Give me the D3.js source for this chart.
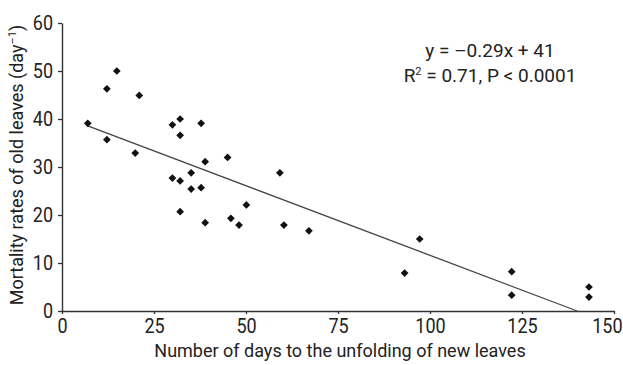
<!DOCTYPE html>
<html>
<head>
<meta charset="utf-8">
<script src="https://cdn.jsdelivr.net/npm/d3@7"></script>
<style>
  body { margin: 0; background: #fff; }
  svg text { font-family: "Roboto", sans-serif; fill: #222; }
</style>
</head>
<body>
<div id="chart"></div>
<script>
// Days to unfolding of new leaves vs mortality rate of old leaves
const daysToUnfold = [7, 12.2, 14.9, 21, 12.2, 19.9, 30, 32.1, 32.1, 37.8, 38.9, 45, 59.2,
                      30, 32.1, 35.1, 35.1, 37.8, 32.1, 38.9, 45.9, 48.1, 50.1, 60.3, 67.1,
                      97.2, 93.1, 122.2, 122.2, 143.2, 143.2];
const mortality    = [39.1, 46.3, 50, 44.9, 35.7, 32.9, 38.8, 40, 36.6, 39.1, 31.1, 32, 28.8,
                      27.7, 27.1, 28.8, 25.4, 25.7, 20.7, 18.4, 19.3, 17.9, 22.1, 17.9, 16.7,
                      15, 7.9, 8.2, 3.3, 5, 2.9];
const xTicks = [0, 25, 50, 75, 100, 125, 150];
const yTicks = [0, 10, 20, 30, 40, 50, 60];
// fitted line as drawn (slope, intercept) and its start x
const fit = { slope: -0.29, intercept: 40.6, x0: 7 };
const equationLines = ["y = \u20130.29x + 41", "R2 = 0.71, P < 0.0001"];

const width = 623, height = 365;
const margin = { top: 23, right: 9, bottom: 54, left: 62 };
const squeeze = 0.9; // condensed look for tick labels

const svg = d3.select("#chart").append("svg")
  .attr("width", width).attr("height", height);

const x = d3.scaleLinear().domain([0, 150]).range([margin.left, width - margin.right]);
const y = d3.scaleLinear().domain([0, 60]).range([height - margin.bottom, margin.top]);

// axes
const gX = svg.append("g")
  .attr("transform", `translate(0,${y(0)})`)
  .call(d3.axisBottom(x).tickValues(xTicks).tickSize(3).tickSizeOuter(0).tickPadding(5));
const gY = svg.append("g")
  .attr("transform", `translate(${x(0)},0)`)
  .call(d3.axisLeft(y).tickValues(yTicks).tickSize(4).tickSizeOuter(0).tickPadding(5));

[gX, gY].forEach(g => {
  g.select(".domain").attr("stroke", "#333").attr("stroke-width", 1.4);
  g.selectAll(".tick line").attr("stroke", "#333").attr("stroke-width", 1.3);
  g.selectAll(".tick text").attr("font-size", 20).attr("fill", "#222")
    .style("font-family", '"Roboto", sans-serif');
});
gX.selectAll(".tick text").attr("transform", `scale(${squeeze},1)`);
gY.selectAll(".tick text").attr("transform", `scale(${squeeze},1)`).attr("x", -9 / squeeze);
// last label sits against the right edge
gX.selectAll(".tick").filter(d => d === 150).select("text")
  .attr("text-anchor", "end").attr("x", 8 / squeeze);

// regression line
const xEnd = -fit.intercept / fit.slope;
svg.append("line")
  .attr("x1", x(fit.x0)).attr("y1", y(fit.slope * fit.x0 + fit.intercept))
  .attr("x2", x(xEnd)).attr("y2", y(0))
  .attr("stroke", "#444").attr("stroke-width", 1.3);

// points
const diamond = d3.symbol().type(d3.symbolSquare).size(30);
svg.append("g").selectAll("path")
  .data(daysToUnfold.map((d, i) => [d, mortality[i]]))
  .join("path")
    .attr("d", diamond)
    .attr("transform", d => `translate(${x(d[0])},${y(d[1])}) rotate(45)`)
    .attr("fill", "#111");

// equation
svg.append("text")
  .attr("x", 490).attr("y", 57).attr("text-anchor", "middle").attr("font-size", 19)
  .text(equationLines[0]);
const r2 = svg.append("text")
  .attr("x", 490).attr("y", 82).attr("text-anchor", "middle").attr("font-size", 19);
r2.append("tspan").text("R");
r2.append("tspan").attr("dy", -7).attr("font-size", 11).text("2");
r2.append("tspan").attr("dy", 7).text(equationLines[1].slice(2));

// axis titles
svg.append("text")
  .attr("x", 340).attr("y", 357).attr("text-anchor", "middle").attr("font-size", 18)
  .text("Number of days to the unfolding of new leaves");

const yt = svg.append("text")
  .attr("transform", "translate(23,165) rotate(-90)")
  .attr("text-anchor", "middle").attr("font-size", 18);
yt.append("tspan").text("Mortality rates of old leaves (day");
yt.append("tspan").attr("dy", -7).attr("font-size", 11).text("\u20131");
yt.append("tspan").attr("dy", 7).text(")");
</script>
</body>
</html>
